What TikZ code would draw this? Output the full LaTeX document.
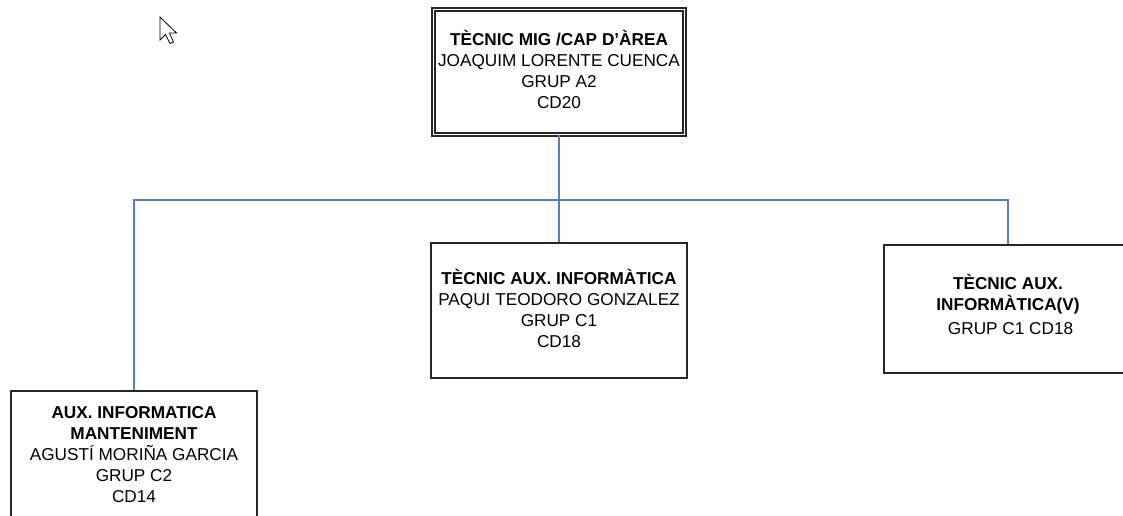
\documentclass[tikz,border=0pt]{standalone}
\usepackage{fontspec}
\setmainfont{Liberation Sans}
\definecolor{connblue}{RGB}{79,129,189}
\begin{document}
\begin{tikzpicture}[x=1pt,y=-1pt,
  box/.style={draw=black!85, line width=1.4pt, fill=white, align=center,
    inner sep=0pt, font=\fontsize{17.2}{21}\selectfont},
  dbox/.style={box, double=white, double distance=1.8pt, line width=1.4pt},
  conn/.style={draw=connblue, line width=1.1pt}]
\useasboundingbox (0,0) rectangle (1123,515);
\clip (0,0) rectangle (1123,515);
\coordinate (j) at (559,200);
\node[dbox, text depth=5pt, minimum width=251pt, minimum height=125pt] (T) at (559,72)
  {\textbf{TÈCNIC MIG /CAP D’ÀREA}\\JOAQUIM LORENTE CUENCA\\GRUP A2\\CD20};
\node[box, text depth=5pt, minimum width=256pt, minimum height=135pt] (M) at (559,310.5)
  {\textbf{TÈCNIC AUX. INFORMÀTICA}\\PAQUI TEODORO GONZALEZ\\GRUP C1\\CD18};
\node[box, text depth=10pt, minimum width=248pt, minimum height=128pt] (R) at (1008,309)
  {\textbf{TÈCNIC AUX.}\\\textbf{INFORMÀTICA(V)}\\[3pt]\hspace*{0.3em}GRUP C1 CD18};
\node[box, minimum width=246pt, minimum height=128pt] (L) at (134,455)
  {\textbf{AUX. INFORMATICA}\\\textbf{MANTENIMENT}\\AGUSTÍ MORIÑA GARCIA\\GRUP C2\\CD14};
\path[conn] (T.south) -- (j);
\path[conn] (j) -- (M.north);
\path[conn] (L.north) |- (j) -| (R.north);
% mouse cursor
\draw[fill=white, line width=0.8pt, line join=miter]
  (160,17) -- (160,40) -- (165.5,34.5) -- (170,43.5) -- (173.5,42) -- (169.5,33) -- (176.5,33) -- cycle;
\end{tikzpicture}
\end{document}
